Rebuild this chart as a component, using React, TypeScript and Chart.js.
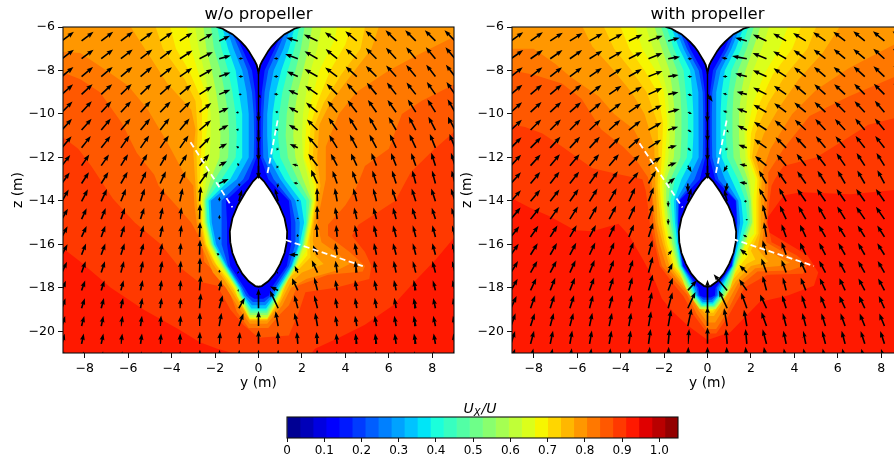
import React, { useEffect, useRef } from "react";
import { Chart, registerables } from "chart.js";

Chart.register(...registerables);

const FONT = "'DejaVu Sans', sans-serif";
const xRange = [-9, 9];
const zRange = [-21, -6];
const xTickValues = [-8, -6, -4, -2, 0, 2, 4, 6, 8];
const zTickValues = [-20, -18, -16, -14, -12, -10, -8, -6];
const cbTickValues = [0, 0.1, 0.2, 0.3, 0.4, 0.5, 0.6, 0.7, 0.8, 0.9, 1.0];
const panelTitles = ["w/o propeller", "with propeller"];

// ---------- contour levels: [band, flat y,z list] painted from the highest level inwards
const baseBand = 26;
const leftBands: [number, number[]][] = [
  [25, [-9.5,-5.5,-9.5,-16,-9.1,-16.1,-8.2,-16.8,-6.8,-18,-5.3,-19,-3.7,-19.9,-2.7,-20.5,-1.9,-20.8,-.5,-21.2,2.3,-21.2,2.6,-20.8,3.7,-20.3,4.9,-19.7,6.2,-18.8,7.2,-17.7,8.2,-16.65,9.08,-15.6,9.5,-15.2,9.5,-5.5]],
  [24, [-9.5,-5.5,-9.5,-10.8,-9.1,-11,-8.3,-11.6,-7.7,-12.4,-7.1,-13.3,-6.7,-13.9,-5.7,-15,-4.5,-16,-3.7,-17,-2.8,-17.7,-1.9,-17.9,-1.3,-19,-.7,-19.7,0,-20.3,1.4,-20.2,1.86,-19.1,2.16,-18.2,3.55,-18,5.1,-17.6,5.2,-17,4.9,-16.35,4.3,-15.6,4.6,-15.1,6.3,-14,7,-12.7,8,-11.7,9.5,-10.4,9.5,-5.5]],
  [23, [-9.5,-5.5,-9.5,-8,-9.1,-8.05,-8.2,-8.4,-7.3,-9,-6.3,-10.4,-5.6,-11.8,-4.8,-12.8,-4.6,-13.3,-3.8,-14.2,-3.1,-15,-2.6,-15.9,-2.5,-16.8,-1.9,-17.4,-1.3,-18.3,-1,-19.1,-.45,-19.85,.45,-19.85,1,-19.2,1.4,-18.8,1.8,-17.9,3.2,-17.4,4.8,-17.25,4.9,-17,4.2,-16.35,3.2,-15.6,3.2,-15.1,4,-14.2,4.5,-13.4,4.9,-12.4,6,-11.6,6.6,-10,7.5,-9.4,9.1,-8.6,9.5,-8.4,9.5,-5.5]],
  [22, [-9.5,-5.5,-9.5,-7.1,-8.2,-7.2,-7,-8,-6,-8.7,-5.1,-9.8,-4.2,-11.3,-3.4,-12.8,-3,-13.3,-2.95,-14.2,-2.85,-15,-2.65,-16,-2.1,-17.3,-1.5,-18,-1,-18.8,-.4,-19.65,.4,-19.65,1.1,-18.8,1.5,-18,2.2,-17.6,3.6,-17.2,4.2,-16.9,3.6,-16.4,2.9,-15.9,2.7,-15,2.9,-14,3.1,-13,3.1,-11.5,3.7,-10,4.5,-9,6,-8,7.3,-7.3,9.1,-6.4,9.5,-6.3,9.5,-5.5]],
  [21, [-6.2,-5.5,-5.3,-6.9,-4.2,-8.6,-3.1,-9.8,-2.9,-10.7,-3,-11.8,-2.9,-13.3,-2.85,-14,-2.75,-15,-2.5,-16,-2.1,-16.9,-1.6,-17.6,-1.2,-18.2,-.9,-18.7,-.4,-19.5,.4,-19.5,1,-18.7,1.45,-17.8,2,-17.3,3,-16.9,2.6,-16.5,2.5,-15.8,2.55,-15,2.75,-14,2.85,-13.3,2.7,-12,2.8,-10.5,3.3,-9.5,4.2,-8.3,5.2,-7,5.7,-5.5]],
  [20, [-4.9,-5.5,-4.4,-7,-3.4,-8.4,-2.9,-9.4,-2.8,-10.8,-2.85,-12,-2.8,-13.3,-2.75,-14,-2.65,-15,-2.45,-16,-2.05,-16.8,-1.5,-17.6,-1.15,-18.1,-.9,-18.55,-.4,-19.45,.4,-19.45,1,-18.55,1.38,-17.6,1.9,-17.1,2.4,-16.6,2.35,-15.8,2.5,-15,2.65,-14,2.75,-13.3,2.5,-12,2.6,-10.5,3,-9.5,3.8,-8.2,4.7,-7,5,-5.5]],
  [19, [-4.2,-5.5,-3.8,-7,-3.2,-8,-2.6,-9.4,-2.6,-11,-2.7,-13,-2.65,-14,-2.6,-15,-2.4,-16,-1.95,-16.9,-1.4,-17.6,-1.1,-18.05,-.95,-18.4,-.4,-19.42,.4,-19.42,1.02,-18.4,1.3,-17.5,1.85,-17,2.25,-16.5,2.25,-16,2.45,-15,2.6,-14,2.65,-13.3,2.3,-12,2.4,-10.5,2.7,-9.5,3.3,-8,4,-6.8,4.4,-5.5]],
  [18, [-3.4,-5.5,-3.1,-7,-2.8,-8,-2.3,-9.4,-2.4,-11,-2.55,-13,-2.6,-14,-2.55,-15,-2.3,-16,-1.85,-16.9,-1.35,-17.5,-1.08,-18,-.98,-18.37,-.4,-19.38,.4,-19.38,1.01,-18.37,1.25,-17.4,1.8,-16.9,2.2,-16.3,2.2,-16,2.4,-15,2.55,-14,2.55,-13.3,2.1,-12,2.2,-10.5,2.4,-9.5,2.8,-8,3.5,-6.6,3.7,-5.5]],
];
const rightBands: [number, number[]][] = [
  [25, [-9.5,-5.5,-9.5,-13.6,-8.97,-13.9,-8.2,-14.3,-7.3,-14.7,-6.1,-15.35,-5.3,-15.4,-4.1,-15.05,-3.6,-15.6,-3,-16.65,-2.4,-17.75,-2.1,-18.5,-1.6,-19.1,-.9,-19.75,0,-20.4,1.05,-20.05,2.4,-18.65,3.7,-18.35,4.9,-17.9,5.1,-17.3,4.6,-16.5,2.75,-15.4,2.75,-14.8,3.5,-13.75,4.3,-13.6,6.6,-13.7,8.6,-13.5,9.5,-13.4,9.5,-5.5]],
  [24, [-9.5,-5.5,-9.5,-10.4,-8.97,-10.5,-8.4,-10.6,-7.6,-10.9,-6.7,-11.5,-5.3,-12.5,-4.2,-12.75,-3,-13,-2.85,-13.5,-2.75,-14.2,-2.65,-15.1,-2.45,-15.9,-2.2,-17,-1.5,-17.9,-1.1,-18.4,-.6,-19.3,0,-20.1,.4,-20.1,.9,-19.4,1.7,-18,2.75,-17.4,4.4,-17.35,4.6,-16.9,4.1,-16.5,2.95,-15.9,2.75,-15,2.85,-14,2.95,-13.3,3.1,-13,3.5,-12.4,5,-12,6.3,-11.2,7.4,-10.5,8.6,-10.2,9.5,-10.1,9.5,-5.5]],
  [23, [-9.5,-5.5,-9.5,-7.9,-8.97,-8,-8,-8.2,-6.7,-8.6,-5.8,-9.3,-4.9,-10.7,-3.9,-11.5,-3.3,-12.1,-2.75,-12.9,-2.65,-13.3,-2.55,-14,-2.5,-15,-2.35,-16,-2.1,-17,-1.4,-17.8,-.95,-18.3,-.5,-19.2,0,-19.9,.4,-19.9,.85,-19.2,1.5,-17.9,2.3,-17.25,3.8,-17.2,4.4,-17,3.9,-16.6,2.7,-15.9,2.7,-15,2.75,-14,2.8,-13.3,2.8,-12.7,3.5,-11.6,4.7,-10.1,6.5,-9.2,8.6,-8.3,9.5,-8,9.5,-5.5]],
  [22, [-9.5,-5.5,-9.5,-6.9,-8.97,-7,-8,-7,-7,-7.7,-6.3,-8.3,-5,-9.2,-4.3,-10,-3.4,-10.7,-2.7,-12,-2.55,-13.3,-2.5,-14,-2.4,-15,-2.2,-16,-1.9,-17,-1.25,-17.8,-.85,-18.3,-.45,-19,0,-19.6,.35,-19.6,.8,-18.9,1.4,-17.8,2.2,-17.1,3.3,-17,3.8,-16.85,3.3,-16.6,2.5,-16,2.6,-15.2,2.6,-14,2.65,-13.3,2.55,-12.6,2.9,-11.6,3.9,-10,5,-8.9,6.5,-7.9,8.6,-6.8,9.5,-6.4,9.5,-5.5]],
  [21, [-6,-5.5,-5.3,-6.9,-4.4,-7.9,-3.5,-9,-2.9,-10,-2.45,-11.5,-2.4,-13.3,-2.35,-14,-2.3,-15,-2.05,-16,-1.75,-17,-1.15,-17.8,-.8,-18.2,-.4,-18.9,0,-19.3,.3,-19.3,.7,-18.7,1.3,-17.7,2,-17,2.8,-16.8,2.3,-16.2,2.45,-15.4,2.45,-14,2.5,-13,2.2,-12,2.6,-10.9,3.3,-9.7,4.2,-8.4,5.3,-7.2,6.4,-5.5]],
  [20, [-5,-5.5,-4.3,-7,-3.5,-8,-2.8,-9,-2.3,-10.4,-2.25,-12,-2.3,-13.3,-2.25,-14,-2.15,-15,-1.95,-16,-1.65,-17,-1.05,-17.75,-.75,-18.1,-.4,-18.8,0,-19.15,.28,-19.15,.65,-18.6,1.2,-17.6,1.8,-16.9,2.2,-16.7,2,-16.3,2.35,-15.5,2.35,-14,2.4,-13,2.05,-12,2.2,-10.9,2.8,-9.5,3.6,-8.2,4.6,-7,5.2,-5.5]],
  [19, [-4.2,-5.5,-3.6,-7,-2.9,-8,-2.3,-9,-2.05,-10.4,-2.1,-12,-2.2,-13.3,-2.15,-14,-2.05,-15,-1.85,-16,-1.55,-17,-.95,-17.7,-.7,-18,-.4,-18.75,0,-19.05,.25,-19.05,.6,-18.5,1.15,-17.5,1.6,-16.85,1.85,-16.55,1.85,-16.2,2.25,-15.5,2.25,-14,2.3,-13,1.95,-12,2,-10.9,2.4,-9.5,3,-8.2,3.9,-7,4.5,-5.5]],
  [18, [-3.5,-5.5,-3,-7,-2.4,-8,-2,-9,-1.85,-10.4,-1.95,-12,-2.1,-13.3,-2.05,-14,-1.95,-15,-1.75,-16,-1.5,-17,-.9,-17.7,-.65,-17.95,-.4,-18.7,0,-19,.25,-19,.55,-18.45,1.1,-17.45,1.5,-16.8,1.65,-16.4,1.7,-16,2.15,-15.5,2.1,-14,2.2,-13,1.85,-12,1.8,-10.9,2.1,-9.5,2.6,-8.2,3.3,-7,3.9,-5.5]],
];

// wake bands: boundary y on each side at wakeRows, tip z below the body
const wakeRows = [-6, -7, -8, -9, -10, -11, -12, -13, -14, -15, -16, -17, -18, -18.35];
const wakeBands = [17, 15, 13, 11, 9, 7, 5, 3];
const leftTips = [-19.35, -19.25, -19.15, -19.05, -18.95, -18.8, -18.65, -18.5];
const rightTips = [-18.97, -18.9, -18.85, -18.8, -18.72, -18.65, -18.55, -18.45];
const leftWakeL = [
  [-3,-2.75,-2.5,-2.3,-2.2,-2.2,-2.25,-2.4,-2.55,-2.5,-2.25,-1.7,-1.05,-.9],
  [-2.6,-2.4,-2.15,-1.95,-1.8,-1.75,-1.8,-2.2,-2.5,-2.45,-2.2,-1.65,-1,-.86],
  [-2.25,-2.05,-1.75,-1.55,-1.4,-1.35,-1.4,-2,-2.45,-2.4,-2.15,-1.6,-.97,-.82],
  [-2,-1.7,-1.4,-1.2,-1.05,-1,-1.05,-1.7,-2.4,-2.35,-2.1,-1.55,-.93,-.78],
  [-1.8,-1.4,-1.05,-.9,-.75,-.75,-.75,-1.3,-2.3,-2.25,-2.05,-1.5,-.88,-.73],
  [-1.65,-1.15,-.75,-.55,-.45,-.45,-.45,-1,-2.2,-2.15,-1.95,-1.45,-.82,-.67],
  [-1.55,-.9,-.5,-.3,-.22,-.2,-.22,-.7,-1.7,-1.7,-1.7,-1.4,-.75,-.57],
  [-1.45,-.75,-.3,-.15,-.1,-.1,-.1,-.45,-1.5,-1.45,-1.45,-1.3,-.65,-.43],
];
const leftWakeR = [
  [3,2.7,2.4,2.2,2.05,2,2.05,2.3,2.5,2.35,2.15,1.75,1.15,.95],
  [2.55,2.3,2.05,1.8,1.65,1.6,1.7,2.05,2.45,2.3,2.1,1.7,1.1,.91],
  [2.2,1.95,1.7,1.45,1.3,1.25,1.35,1.8,2.35,2.25,2.05,1.65,1.05,.86],
  [2,1.65,1.35,1.1,.95,.9,1,1.5,2.2,2.2,2,1.6,1,.81],
  [1.8,1.4,1.05,.8,.65,.6,.65,1.2,1.95,2.1,1.9,1.55,.95,.77],
  [1.65,1.15,.7,.5,.4,.4,.45,1,1.7,1.9,1.85,1.5,.85,.7],
  [1.55,.9,.45,.28,.22,.2,.22,.7,1.5,1.7,1.7,1.4,.75,.6],
  [1.45,.75,.28,.15,.1,.1,.1,.45,1.4,1.5,1.5,1.3,.6,.48],
];
const rightWakeL = [
  [-3,-2.5,-2.1,-1.85,-1.75,-1.75,-1.8,-2,-2,-1.9,-1.7,-1.4,-1,-.8],
  [-2.6,-2.1,-1.75,-1.6,-1.5,-1.5,-1.55,-1.9,-1.9,-1.8,-1.62,-1.35,-.9,-.72],
  [-2.3,-1.8,-1.4,-1.25,-1.2,-1.2,-1.25,-1.7,-1.8,-1.7,-1.52,-1.3,-.82,-.65],
  [-2.05,-1.55,-1.1,-1,-.9,-.9,-.95,-1.5,-1.7,-1.6,-1.45,-1.25,-.75,-.6],
  [-1.85,-1.3,-.8,-.7,-.65,-.65,-.7,-1.2,-1.55,-1.5,-1.38,-1.22,-.68,-.54],
  [-1.7,-1.1,-.6,-.42,-.4,-.4,-.42,-.9,-1.45,-1.42,-1.33,-1.18,-.6,-.48],
  [-1.55,-.95,-.4,-.22,-.2,-.2,-.22,-.6,-1.35,-1.36,-1.3,-1.15,-.5,-.42],
  [-1.45,-.8,-.25,-.12,-.1,-.1,-.1,-.35,-1.3,-1.34,-1.28,-1.12,-.42,-.36],
];
const rightWakeR = [
  [3,2.5,2.1,1.85,1.75,1.7,1.75,1.95,2.05,2.1,1.75,1.35,1.05,.85],
  [2.6,2.1,1.75,1.55,1.45,1.45,1.5,1.85,2,2.05,1.68,1.3,.95,.76],
  [2.3,1.8,1.4,1.2,1.15,1.15,1.2,1.65,1.9,1.95,1.6,1.25,.85,.68],
  [2.05,1.55,1.1,.95,.85,.85,.9,1.4,1.75,1.85,1.5,1.2,.75,.6],
  [1.85,1.3,.8,.65,.6,.6,.65,1.1,1.55,1.65,1.42,1.18,.65,.54],
  [1.7,1.1,.6,.4,.4,.4,.42,.8,1.42,1.5,1.35,1.15,.55,.48],
  [1.55,.95,.4,.22,.2,.2,.22,.5,1.33,1.38,1.3,1.12,.45,.42],
  [1.45,.8,.25,.12,.1,.1,.1,.35,1.3,1.34,1.28,1.1,.37,.34],
];

// ---------- body outline and strut
const topBody = [-2,-5.5,-1.9,-6,-1.65,-6.08,-1.45,-6.2,-1.2,-6.33,-1,-6.5,-.8,-6.68,-.6,-6.9,-.45,-7.1,-.3,-7.35,-.18,-7.55,-.08,-7.75,0,-8.1,.08,-7.75,.18,-7.55,.3,-7.35,.45,-7.1,.6,-6.9,.8,-6.68,1,-6.5,1.2,-6.33,1.45,-6.2,1.65,-6.08,1.9,-6,2,-5.5];
const mainBody = [0,-12.85,.25,-13.1,.6,-13.6,.95,-14.2,1.2,-14.8,1.32,-15.4,1.3,-15.9,1.2,-16.4,1,-16.9,.75,-17.35,.45,-17.7,.15,-17.92,0,-17.95,-.15,-17.92,-.45,-17.7,-.75,-17.35,-1,-16.9,-1.2,-16.4,-1.3,-15.9,-1.32,-15.4,-1.2,-14.8,-.95,-14.2,-.6,-13.6,-.25,-13.1,0,-12.85];
const strut = [0,-8.1,0,-12.85];

// ---------- white dashed probe lines
const leftProbes = [[-3.13,-11.3,-1.2,-14.3],[.88,-10.3,.4,-12.8],[1.25,-15.8,4.8,-17]];
const rightProbes = [[-3.13,-11.35,-1.15,-14.3],[.88,-10.3,.37,-12.8],[1.15,-15.75,4.9,-17]];

// ---------- arrow grid
const arrowCols = [-9.05,-8.145,-7.24,-6.335,-5.43,-4.525,-3.62,-2.715,-1.81,-.905,0,.905,1.81,2.715,3.62,4.525,5.43,6.335,7.24,8.145,9.05];
const arrowRows = [-6.64,-7.46,-8.28,-9.1,-9.92,-10.74,-11.56,-12.38,-13.2,-14.02,-14.84,-15.66,-16.48,-17.3,-18.12,-18.94,-19.76,-20.58,-21.4];
const leftAngles = [
  [37,37,37,37,36,35,33,30,25,0,0,0,165,155,145,140,137,135,135,135,135],
  [37,37,38,38,38,37,33,27,15,5,0,175,160,150,140,138,135,133,130,130,130],
  [40,40,40,40,40,38,35,30,20,2,0,178,155,150,143,138,135,132,130,128,128],
  [42,43,43,44,44,42,40,33,22,-3,-60,175,155,145,135,132,130,128,128,125,125],
  [45,47,47,47,48,46,45,38,25,-170,-90,170,150,140,130,128,125,125,122,122,120],
  [48,48,50,50,50,52,50,40,28,165,-90,160,150,135,125,122,120,120,118,118,118],
  [50,52,52,55,55,55,55,45,28,150,-90,-120,155,130,122,118,118,115,115,112,112],
  [52,55,55,58,60,60,58,50,30,120,-90,-120,165,128,118,115,112,112,110,108,108],
  [55,57,58,60,65,65,65,55,25,-70,0,-100,170,115,110,110,108,108,105,105,105],
  [60,62,65,68,72,75,78,85,85,75,0,105,90,92,100,105,105,108,108,108,108],
  [60,65,68,70,72,78,82,88,85,0,0,0,90,92,100,103,105,105,108,108,108],
  [62,65,70,72,75,78,82,88,-80,0,0,0,100,95,95,100,103,105,105,105,105],
  [62,68,70,72,75,80,85,88,150,0,0,0,180,115,100,100,102,105,105,105,105],
  [65,70,72,75,78,80,85,88,80,160,0,200,115,115,98,98,102,102,105,105,105],
  [68,70,72,75,78,82,85,85,78,170,0,155,115,105,100,100,102,102,102,105,105],
  [70,72,75,78,80,82,85,85,75,60,90,115,105,105,100,100,100,100,102,102,102],
  [72,75,78,80,82,85,85,88,80,70,90,100,105,100,100,100,100,100,102,102,102],
  [75,78,78,82,82,85,88,88,85,85,90,92,95,95,95,98,98,98,100,100,100],
  [78,78,80,82,85,85,88,88,88,88,90,90,92,92,95,95,95,98,98,100,100],
];
const rightAngles = [
  [35,35,33,32,30,28,25,20,15,0,0,0,165,155,150,148,145,142,140,140,140],
  [35,35,35,35,32,30,27,22,10,0,0,170,170,158,150,145,142,140,140,138,138],
  [38,38,38,37,35,33,30,22,8,-3,0,178,165,155,147,142,140,140,138,137,135],
  [40,40,40,40,38,35,30,25,12,-15,-55,170,165,153,145,140,138,137,135,135,135],
  [42,43,43,42,40,38,35,28,15,-25,-92,160,160,150,143,140,137,135,133,130,130],
  [43,45,45,45,43,42,38,30,18,-30,-90,-60,155,147,140,137,133,133,130,130,128],
  [45,45,47,47,47,45,42,33,15,-45,-90,-120,160,145,135,133,130,130,128,128,125],
  [47,48,50,50,50,50,45,35,20,-60,-90,-120,170,140,130,128,128,125,123,122,122],
  [48,50,52,52,55,55,50,60,40,-90,0,-100,170,120,125,125,122,120,120,118,118],
  [48,50,52,55,58,60,65,70,-90,75,0,105,180,120,118,125,125,125,125,125,125],
  [50,52,55,58,60,62,65,72,-90,0,0,0,-90,105,115,120,120,122,125,125,125],
  [52,55,58,60,62,65,68,72,-20,0,0,0,150,100,110,115,120,122,122,122,125],
  [55,58,60,62,65,68,70,75,50,0,0,0,140,105,110,115,118,120,120,122,122],
  [58,60,62,65,68,70,72,75,65,0,0,0,135,110,110,115,118,118,120,120,120],
  [60,65,68,68,70,72,75,75,70,48,0,130,125,105,105,112,115,115,118,118,118],
  [65,70,72,72,75,75,78,78,75,65,90,115,110,115,108,108,112,115,115,115,115],
  [70,72,75,75,78,78,80,80,80,78,90,100,100,110,105,105,108,110,112,112,112],
  [72,75,78,80,80,80,82,82,85,85,90,95,95,105,102,102,105,105,108,108,108],
  [72,78,80,82,82,85,85,85,88,88,90,92,95,100,100,100,102,102,105,105,105],
];
// arrow length in tenths of the reference arrow: outer value per row, and the seven central columns
const leftOuter = [10,10,10,10,10,10,10,9,9,9,8,8,8,8,7,7,7,7,7];
const rightOuter = [10,10,10,10,10,10,10,10,10,10,10,9,9,9,9,9,9,9,9];
const leftCentral = [
  [10,8,0,0,0,8,10],[10,8,3,0,3,9,10],[10,8,3,0,3,8,10],[10,8,2,3,3,7,10],[10,7,2,7,2,7,10],
  [10,7,2,9,2,7,10],[10,6,2,9,2,6,10],[10,6,2,9,2,4,10],[10,7,2,0,3,3,10],[10,3,8,0,9,1,9],
  [10,3,0,0,0,1,9],[10,2,0,0,0,2,9],[10,2,0,0,0,6,7],[10,2,1,0,1,5,9],[10,7,1,0,6,9,9],
  [10,9,8,13,13,9,9],[9,9,9,10,10,9,9],[8,8,8,9,8,8,8],[8,8,8,8,8,8,8],
];
const rightCentral = [
  [10,8,0,0,0,8,10],[10,8,3,0,4,10,10],[10,7,3,0,3,8,10],[10,7,3,6,3,7,10],[10,8,3,7,3,7,10],
  [10,7,3,8,2,7,10],[10,6,3,9,2,6,10],[10,6,5,9,5,5,10],[10,6,6,0,6,5,10],[10,4,9,0,8,2,10],
  [10,4,0,0,0,1,10],[10,3,0,0,0,3,10],[10,4,0,0,0,6,10],[11,7,0,0,0,7,10],[11,9,9,0,14,9,10],
  [11,11,12,19,13,11,10],[10,11,12,13,12,11,10],[10,10,10,11,10,10,10],[10,10,10,10,10,10,10],
];

// ---------- colour bar
const cbBands = [.035,.035,.035,.035,.035,.035,.035,.035,.035,.035,.035,.035,.035,.035,.035,.035,.035,.035,.035,.035,.035,.035,.035,.035,.035,.035,.035,.035,.035,.035];

function seg(t: number, pts: number[][]) {
  for (let i = 1; i < pts.length; i++) {
    if (t <= pts[i][0]) {
      const [a, va] = pts[i - 1];
      const [b, vb] = pts[i];
      return va + ((t - a) / (b - a)) * (vb - va);
    }
  }
  return pts[pts.length - 1][1];
}
function jet(band: number) {
  const t = (band + 0.5) / 30;
  const r = seg(t, [[0,0],[.35,0],[.66,1],[.89,1],[1,.5]]);
  const g = seg(t, [[0,0],[.125,0],[.375,1],[.64,1],[.91,0],[1,0]]);
  const b = seg(t, [[0,.5],[.11,1],[.34,1],[.65,0],[1,0]]);
  return `rgb(${Math.round(r * 255)},${Math.round(g * 255)},${Math.round(b * 255)})`;
}

function toPts(flat: number[]) {
  const p: { x: number; y: number }[] = [];
  for (let i = 0; i < flat.length; i += 2) p.push({ x: flat[i], y: flat[i + 1] });
  return p;
}
// the last point moves to the front so the list is not x-sorted (keeps Chart.js from trimming it)
function polygon(flat: number[]) {
  const p = toPts(flat);
  p.unshift(p.pop()!);
  return p;
}
function shape(data: any[], color: string, extra: any = {}) {
  return { data, backgroundColor: color, borderWidth: 0, pointRadius: 0, fill: "shape", tension: 0, ...extra };
}

const UNIT = 15 / 21.7; // reference arrow length in y units

function arrowPolys(angles: number[][], outer: number[], central: number[][]) {
  const pts: { x: number; y: number }[] = [];
  arrowRows.forEach((z, r) => {
    arrowCols.forEach((y, c) => {
      const tenth = c >= 7 && c <= 13 ? central[r][c - 7] : outer[r];
      if (!tenth) return;
      const len = (tenth / 10) * UNIT;
      const a = (angles[r][c] * Math.PI) / 180;
      const ux = Math.cos(a), uy = Math.sin(a);
      const px = -uy, py = ux;
      const headL = Math.min(0.3, len * 0.75);
      const scale = headL / 0.3;
      const sw = 0.037 * Math.max(scale, 0.6);
      const hw = 0.11 * Math.max(scale, 0.6);
      const axis = len - headL * 0.9;
      const P = (al: number, ac: number) => pts.push({ x: y + ux * al + px * ac, y: z + uy * al + py * ac });
      P(0, sw); P(axis, sw); P(len - headL, hw); P(len, 0); P(len - headL, -hw); P(axis, -sw); P(0, -sw);
      pts.push({ x: NaN, y: NaN });
    });
  });
  return pts;
}

function wakePoly(l: number[], r: number[], tip: number) {
  const f: number[] = [];
  const last = wakeRows.length - 1;
  wakeRows.forEach((z, i) => f.push(l[i], i === 0 ? -5.5 : z));
  f.push(l[last] * 0.45, tip, r[last] * 0.45, tip);
  for (let i = last; i >= 0; i--) f.push(r[i], i === 0 ? -5.5 : wakeRows[i]);
  return f;
}

const framePlugin = {
  id: "frame",
  afterDraw(chart: any) {
    const { ctx, chartArea: a } = chart;
    ctx.save();
    ctx.strokeStyle = "#111";
    ctx.lineWidth = 1.1;
    ctx.strokeRect(a.left, a.top, a.right - a.left, a.bottom - a.top);
    ctx.restore();
  },
};

const minus = (v: any) => String(v).replace("-", "\u2212");
const fixTicks = (values: number[]) => (s: any) => {
  s.ticks = values.map((value) => ({ value }));
};

function panelConfig(i: number) {
  const bands = i === 0 ? leftBands : rightBands;
  const wl = i === 0 ? leftWakeL : rightWakeL;
  const wr = i === 0 ? leftWakeR : rightWakeR;
  const tips = i === 0 ? leftTips : rightTips;
  const painted: any[] = [];
  painted.push(shape(polygon([-9.6,-5.5,-9.6,-21.5,9.6,-21.5,9.6,-5.5]), jet(baseBand)));
  bands.forEach(([b, flat]) => painted.push(shape(polygon(flat), jet(b))));
  wakeBands.forEach((b, k) => painted.push(shape(polygon(wakePoly(wl[k], wr[k], tips[k])), jet(b))));
  painted.push({ data: toPts(strut), borderColor: "#000", borderWidth: 1.4, pointRadius: 0, fill: false });
  painted.push(shape(toPts(topBody), "#fff", { borderColor: "#000", borderWidth: 1.8 }));
  painted.push(shape(toPts(mainBody), "#fff", { borderColor: "#000", borderWidth: 1.8 }));
  painted.push(shape(arrowPolys(i === 0 ? leftAngles : rightAngles, i === 0 ? leftOuter : rightOuter, i === 0 ? leftCentral : rightCentral), "#000"));
  (i === 0 ? leftProbes : rightProbes).forEach((p) =>
    painted.push({ data: toPts(p), borderColor: "#fff", borderWidth: 1.8, borderDash: [6, 3.5], pointRadius: 0, fill: false })
  );
  const n = painted.length;
  painted.forEach((d, k) => (d.order = n - k));
  return {
    type: "line",
    data: { datasets: painted },
    plugins: [framePlugin],
    options: {
      animation: false,
      responsive: false,
      events: [],
      parsing: { xAxisKey: "x", yAxisKey: "y" },
      layout: { padding: { left: 10, right: 12, top: 5, bottom: 0 } },
      plugins: {
        legend: { display: false },
        tooltip: { enabled: false },
        title: {
          display: true,
          text: panelTitles[i],
          fullSize: false,
          color: "#000",
          font: { family: FONT, size: 16.5, weight: "normal", lineHeight: 1.2 },
          padding: { top: 0, bottom: 2.2 },
        },
      },
      scales: {
        x: {
          type: "linear",
          min: xRange[0],
          max: xRange[1],
          afterBuildTicks: fixTicks(xTickValues),
          afterFit: (s: any) => (s.height = 42),
          border: { display: false },
          grid: { drawOnChartArea: false, drawTicks: true, tickLength: 5, tickColor: "#111" },
          ticks: { maxRotation: 0, autoSkip: false, color: "#000", padding: 3, font: { family: FONT, size: 12.5 }, callback: minus },
          title: { display: true, text: "y (m)", color: "#000", font: { family: FONT, size: 13.8 }, padding: { top: 0, bottom: 3 } },
        },
        y: {
          type: "linear",
          min: zRange[0],
          max: zRange[1],
          afterBuildTicks: fixTicks(zTickValues),
          afterFit: (s: any) => (s.width = 53),
          border: { display: false },
          grid: { drawOnChartArea: false, drawTicks: true, tickLength: 5, tickColor: "#111" },
          ticks: { autoSkip: false, color: "#000", padding: 3, font: { family: FONT, size: 12.5 }, callback: minus },
          title: { display: true, text: "z (m)", color: "#000", font: { family: FONT, size: 13.8 }, padding: { top: 0, bottom: 0 } },
        },
      },
    },
  };
}

const cbTitlePlugin = {
  id: "cbTitle",
  afterDraw(chart: any) {
    const { ctx, chartArea: a } = chart;
    const cx = (a.left + a.right) / 2;
    ctx.save();
    ctx.fillStyle = "#000";
    ctx.textBaseline = "alphabetic";
    ctx.textAlign = "left";
    const x0 = cx - 19;
    const y0 = a.top - 4;
    ctx.font = `italic 14px ${FONT}`;
    ctx.fillText("U", x0, y0);
    const w = ctx.measureText("U").width;
    ctx.font = `italic 10px ${FONT}`;
    ctx.fillText("X", x0 + w, y0 + 3);
    const w2 = ctx.measureText("X").width;
    ctx.font = `italic 14px ${FONT}`;
    ctx.fillText("/U", x0 + w + w2 + 1, y0);
    ctx.restore();
  },
};

function colorbarConfig() {
  return {
    type: "bar",
    data: {
      labels: [""],
      datasets: cbBands.map((v, k) => ({ data: [v], backgroundColor: jet(k), borderWidth: 0, barPercentage: 1, categoryPercentage: 1 })),
    },
    plugins: [framePlugin, cbTitlePlugin],
    options: {
      indexAxis: "y",
      animation: false,
      responsive: false,
      events: [],
      layout: { padding: { left: 37, right: 42, top: 22, bottom: 0 } },
      plugins: { legend: { display: false }, tooltip: { enabled: false } },
      scales: {
        x: {
          type: "linear",
          stacked: true,
          min: 0,
          max: 1.05,
          afterBuildTicks: fixTicks(cbTickValues),
          afterFit: (s: any) => (s.height = 20),
          border: { display: false },
          grid: { drawOnChartArea: false, drawTicks: true, tickLength: 4, tickColor: "#111" },
          ticks: {
            maxRotation: 0,
            autoSkip: false,
            color: "#000",
            padding: 2,
            font: { family: FONT, size: 12 },
            callback: (v: any) => (Math.abs(v) < 1e-9 ? "0" : Number(v).toFixed(1)),
          },
        },
        y: { type: "category", stacked: true, display: false },
      },
    },
  };
}

export default function App() {
  const a = useRef<HTMLCanvasElement>(null);
  const b = useRef<HTMLCanvasElement>(null);
  const c = useRef<HTMLCanvasElement>(null);
  useEffect(() => {
    document.body.style.margin = "0";
    document.body.style.background = "#fff";
    const charts = [
      new Chart(a.current as any, panelConfig(0) as any),
      new Chart(b.current as any, panelConfig(1) as any),
      new Chart(c.current as any, colorbarConfig() as any),
    ];
    return () => charts.forEach((ch) => ch.destroy());
  }, []);
  const abs = (left: number, top: number, w: number, h: number): React.CSSProperties => ({
    position: "absolute", left, top, width: w, height: h, display: "block",
  });
  return (
    <div style={{ position: "relative", width: 894, height: 458, overflow: "hidden", background: "#fff" }}>
      <canvas ref={a} width={466} height={395} style={abs(0, 0, 466, 395)} />
      <canvas ref={b} width={466} height={395} style={abs(449, 0, 466, 395)} />
      <canvas ref={c} width={470} height={63} style={abs(250, 395, 470, 63)} />
    </div>
  );
}
